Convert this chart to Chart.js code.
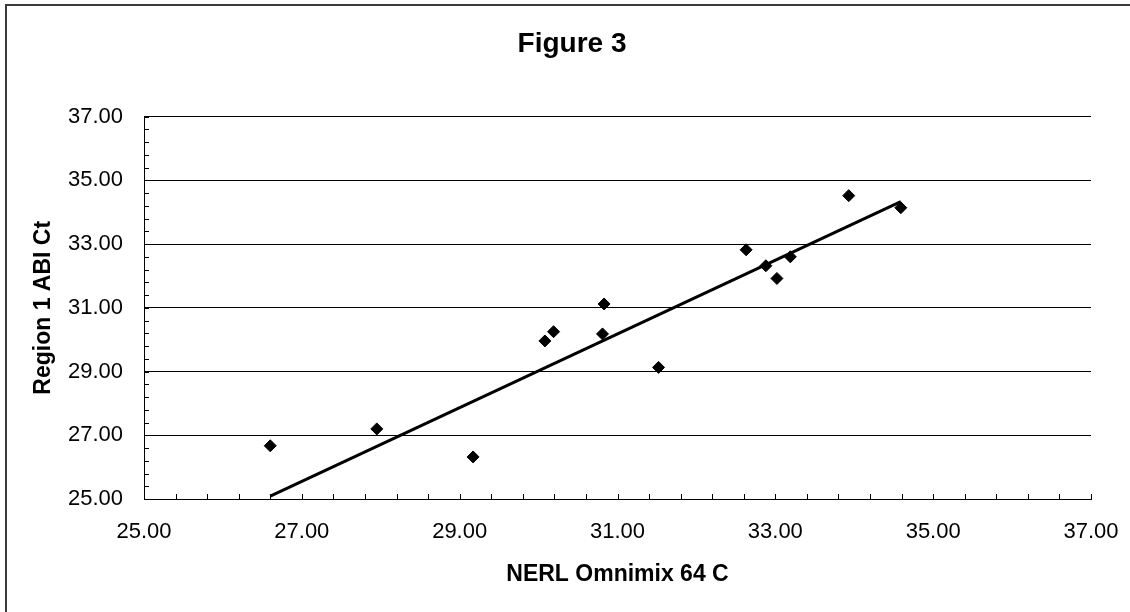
<!DOCTYPE html>
<html><head><meta charset="utf-8">
<script src="https://cdn.jsdelivr.net/npm/chart.js@4.4.1/dist/chart.umd.min.js"></script>
<style>html,body{margin:0;padding:0;background:#fff;}#wrap{width:1130px;height:612px;}</style>
</head><body><div id="wrap"><canvas id="c" width="1130" height="612"></canvas></div>
<script>
const chartTitle = 'Figure 3';
const xAxisTitle = 'NERL Omnimix 64 C';
const yAxisTitle = 'Region 1 ABI Ct';
const xValues = [26.60, 27.95, 29.17, 30.08, 30.19, 30.83, 30.81, 31.52, 32.88, 33.02, 32.63, 33.19, 33.93, 34.59];
const yValues = [26.67, 27.20, 26.32, 29.96, 30.25, 31.12, 30.18, 29.13, 32.32, 31.92, 32.82, 32.60, 34.52, 34.14];
const trendX = [26.60, 34.59];
const trendY = [25.09, 34.33];
const axisMin = 25, axisMax = 37, majorStep = 2, minorStep = 0.4;

const FONT = "'Liberation Sans', Arial, sans-serif";
const points = xValues.map((x, i) => ({x, y: yValues[i]}));
const trend = trendX.map((x, i) => ({x, y: trendY[i]}));

const frame = {
  id: 'frame',
  afterDraw(chart) {
    const ctx = chart.ctx;
    ctx.save();
    ctx.strokeStyle = '#3a3a3a';
    ctx.lineWidth = 2;
    ctx.strokeRect(6, 5, 1200, 700);
    ctx.restore();
  }
};

const minorTicks = {
  id: 'minorTicks',
  beforeDatasetsDraw(chart) {
    const {ctx, scales: {x, y}} = chart;
    ctx.save();
    ctx.strokeStyle = '#000';
    ctx.lineWidth = 1;
    ctx.beginPath();
    const yb = Math.round(y.getPixelForValue(axisMin));
    const xl = Math.round(x.getPixelForValue(axisMin));
    const n = Math.round((axisMax - axisMin) / minorStep);
    for (let i = 0; i <= n; i++) {
      const v = axisMin + i * minorStep;
      const major = Math.abs(v / majorStep - Math.round(v / majorStep)) < 1e-6;
      const len = major ? 7 : 5;
      const px = Math.round(x.getPixelForValue(v)) + 0.5;
      ctx.moveTo(px, yb);
      ctx.lineTo(px, yb - len);
      const py = Math.round(y.getPixelForValue(v)) + 0.5;
      ctx.moveTo(xl, py);
      ctx.lineTo(xl + len, py);
    }
    ctx.stroke();
    ctx.restore();
  }
};

new Chart(document.getElementById('c'), {
  type: 'scatter',
  data: {
    datasets: [
      {
        label: 'Data',
        data: points,
        pointStyle: 'rectRot',
        pointRadius: 6,
        pointHoverRadius: 6,
        backgroundColor: '#000',
        borderColor: '#000',
        borderWidth: 1,
        order: 1
      },
      {
        label: 'Trend',
        data: trend,
        showLine: true,
        borderColor: '#000',
        borderWidth: 3,
        pointRadius: 0,
        fill: false,
        order: 2
      }
    ]
  },
  options: {
    responsive: false,
    animation: false,
    devicePixelRatio: 1,
    layout: {padding: {left: 14, right: 0, top: 0, bottom: 0}},
    plugins: {
      legend: {display: false},
      tooltip: {enabled: false},
      title: {
        display: true,
        text: chartTitle,
        color: '#000',
        font: {family: FONT, size: 28, weight: 'bold'},
        padding: {top: 27, bottom: 56}
      }
    },
    scales: {
      x: {
        type: 'linear',
        position: 'bottom',
        min: axisMin,
        max: axisMax,
        grid: {display: false, drawTicks: false},
        border: {display: true, color: '#000', width: 1},
        ticks: {
          stepSize: majorStep,
          color: '#000',
          font: {family: FONT, size: 22},
          padding: 20,
          maxRotation: 0,
          callback: v => Number(v).toFixed(2)
        },
        title: {
          display: true,
          text: xAxisTitle,
          color: '#000',
          font: {family: FONT, size: 23, weight: 'bold'},
          padding: {top: 0, bottom: 24}
        },
        afterFit: s => { s.height = 113; s.paddingRight = 39; }
      },
      y: {
        type: 'linear',
        min: axisMin,
        max: axisMax,
        grid: {display: true, color: '#000', lineWidth: 1, drawTicks: false},
        border: {display: true, color: '#000', width: 1},
        ticks: {
          stepSize: majorStep,
          color: '#000',
          font: {family: FONT, size: 22},
          padding: 21,
          callback: v => Number(v).toFixed(2)
        },
        title: {
          display: true,
          text: yAxisTitle,
          color: '#000',
          font: {family: FONT, size: 23, weight: 'bold'},
          padding: {top: 16, bottom: 0}
        },
        afterFit: s => { s.width = 130; }
      }
    }
  },
  plugins: [frame, minorTicks]
});
</script>
</body></html>
